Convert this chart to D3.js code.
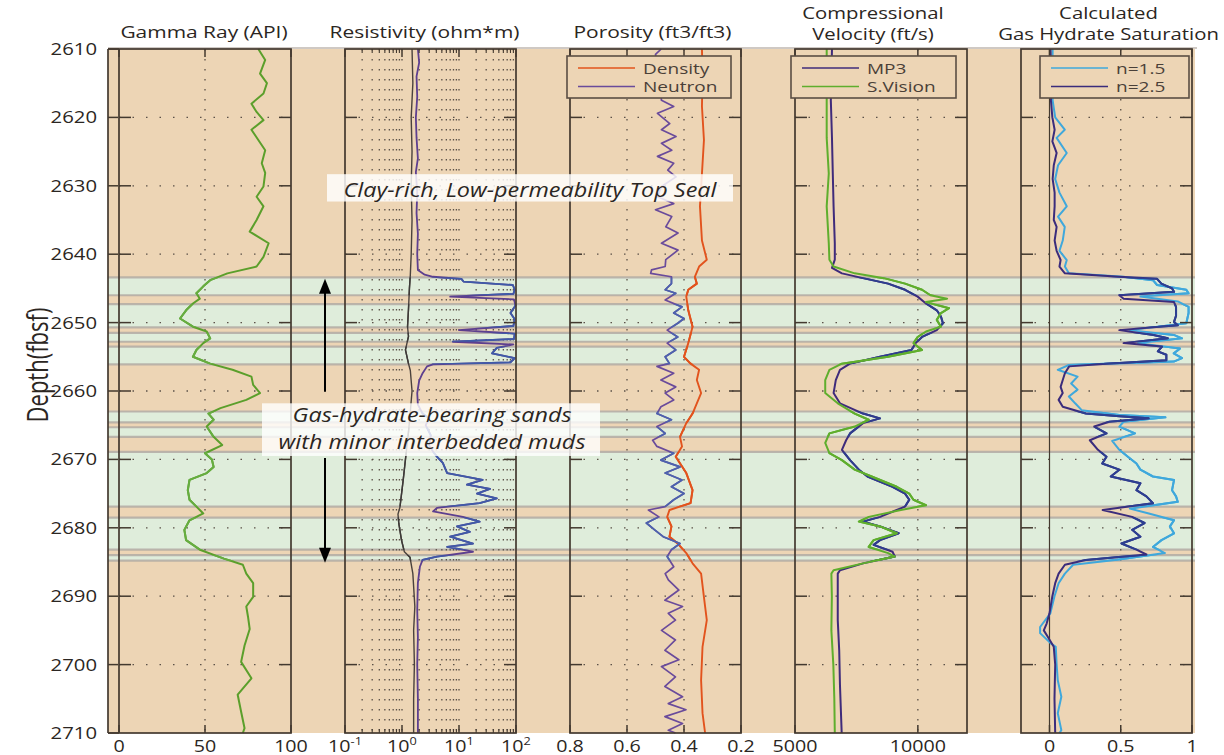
<!DOCTYPE html>
<html>
<head>
<meta charset="utf-8">
<script src="https://cdn.jsdelivr.net/npm/d3@7"></script>
<style>
  body { margin: 0; background: #fff; }
  svg { display: block; }
  text { font-family: "Open Sans", "Noto Sans", sans-serif; }
</style>
</head>
<body>
<svg id="chart" width="1224" height="755"></svg>
<script>
// ---------- data (depth in ft below sea floor, value) ----------
const depthTicks = [2610, 2620, 2630, 2640, 2650, 2660, 2670, 2680, 2690, 2700, 2710];

// hydrate-bearing intervals [top, base]
const hydrateTop  = [2643.4, 2647.3, 2651.5, 2653.5, 2663.0, 2665.3, 2668.9, 2678.5, 2684.0];
const hydrateBase = [2646.0, 2650.7, 2652.8, 2656.1, 2664.6, 2666.7, 2676.9, 2683.2, 2684.8];

const gammaRay = [[2610,81],[2611.6,85],[2613.6,82],[2615,86],[2616.5,84],[2618,77],[2619.2,80],[2620.4,84],
  [2621.8,77],[2623.3,81],[2624.8,85],[2626.7,83],[2628.1,85],[2630.1,84],[2631.6,80],[2633,84],[2635,80],
  [2636.7,76],[2638.4,87],[2640.4,84],[2641.8,80],[2642.8,63],[2643.8,53],[2644.7,49],[2645.7,45],[2646.5,47],
  [2647.2,43],[2648.2,39],[2649.4,35.5],[2650.6,43],[2651.3,51],[2652.3,53],[2653,49],[2654,45],[2655,43],
  [2656,53],[2656.9,66],[2657.9,77],[2659.1,78],[2660.3,82],[2661.3,74],[2662.5,59],[2663.3,52],[2664.2,55],
  [2665.2,51],[2666.7,55],[2667.9,60],[2669.1,50],[2670,54],[2671.1,55],[2672,51],[2673,41],[2674.5,40],
  [2675.9,41],[2676.9,45],[2677.9,49],[2678.9,41],[2680.3,38],[2681.8,39],[2683.2,47],[2684.5,61],[2685.4,72],
  [2686.7,74],[2688.1,78],[2690.1,78],[2691.5,74],[2693,75],[2694.8,76],[2697.2,73],[2699.6,71],[2702,77],
  [2704.4,69],[2706.9,71],[2709.3,73],[2710,72]];

const resShallow = [[2610,1.5],[2615,1.55],[2620,1.45],[2625,1.5],[2630,1.45],[2635,1.5],[2640,1.45],[2643,1.4],
  [2645,1.35],[2648,1.3],[2650.6,1.25],[2652,1.3],[2654,1.15],[2656,1.3],[2657,1.4],[2660,1.5],[2663,1.4],
  [2666,1.3],[2670,1.15],[2673,1.05],[2677,0.92],[2678,0.85],[2679.4,0.88],[2681.8,0.98],[2683.5,1.1],
  [2684.3,1.38],[2686.7,1.55],[2691.5,1.68],[2695,1.6],[2700,1.65],[2705,1.6],[2710,1.6]];

const resDeep = [[2610,1.9],[2612,2.0],[2614,1.8],[2617,1.85],[2620,1.75],[2623,1.8],[2626,1.9],[2628,1.75],
  [2631,1.85],[2634,1.8],[2637,1.9],[2640,1.85],[2642.3,1.9],[2643,2.5],[2643.3,3.5],[2643.6,11],[2644,12],
  [2644.5,88],[2645.2,95],[2645.8,90],[2646.2,7],[2646.6,92],[2647.5,98],[2648.6,80],[2649.5,95],[2650.5,90],
  [2651.1,10],[2651.6,95],[2652.4,92],[2652.8,7.8],[2653.2,90],[2653.7,46],[2654.5,38],[2655.2,95],[2655.8,80],
  [2656.1,3.5],[2656.4,2.75],[2657.4,2.3],[2658.5,2.0],[2660.3,1.85],[2662,1.9],[2663.3,2.3],[2664,3],
  [2665,2.6],[2666.5,3.2],[2668,3.0],[2669,3.6],[2669.6,4.1],[2670.5,5.2],[2672,6.2],[2673,26],[2673.7,13.8],
  [2674.3,35],[2675,20.7],[2675.7,46],[2676.4,23],[2677.1,4.1],[2677.6,3.5],[2678.4,11.7],[2679.1,23],
  [2679.8,9.2],[2680.6,15.5],[2681.3,7],[2682.3,17.6],[2682.8,6.2],[2683.5,17.6],[2684.2,4.1],[2684.7,2.3],
  [2685.7,2.06],[2688,1.9],[2692,1.85],[2696,1.9],[2700,1.85],[2705,1.9],[2710,1.9]];

const density = [[2610,0.337],[2614,0.335],[2618.4,0.337],[2623.3,0.33],[2628.2,0.337],[2633,0.344],[2638,0.337],
  [2640.8,0.32],[2641.8,0.347],[2643.3,0.362],[2644.3,0.355],[2645.2,0.385],[2646.2,0.392],[2648.2,0.385],
  [2650.6,0.37],[2653,0.385],[2655,0.40],[2656,0.377],[2656.9,0.347],[2658.4,0.355],[2660.3,0.34],[2661.8,0.355],
  [2663.3,0.37],[2664.7,0.392],[2666.7,0.414],[2668.1,0.407],[2669.6,0.429],[2672,0.392],[2674.5,0.37],
  [2676.4,0.377],[2677.4,0.451],[2678.4,0.459],[2679.8,0.444],[2681.3,0.451],[2682.3,0.422],[2683.7,0.392],
  [2685.2,0.37],[2686.7,0.34],[2689.1,0.333],[2691.5,0.326],[2693.5,0.32],[2697.4,0.335],[2702.3,0.34],
  [2707.1,0.335],[2710,0.326]];

const neutron = [[2610,0.48],[2610.8,0.5],[2617.5,0.479],[2618.4,0.436],[2619.4,0.493],[2620.9,0.45],[2621.8,0.479],
  [2622.8,0.428],[2623.8,0.479],[2624.8,0.443],[2625.7,0.493],[2626.7,0.436],[2627.7,0.457],[2628.7,0.428],
  [2630.1,0.479],[2631.6,0.493],[2632.6,0.436],[2633.5,0.5],[2634.5,0.443],[2636,0.464],[2636.9,0.421],
  [2638.4,0.479],[2639.4,0.421],[2640.8,0.464],[2641.8,0.466],[2642.3,0.514],[2642.8,0.517],[2643.3,0.444],
  [2644.3,0.444],[2645.2,0.466],[2645.7,0.429],[2646.7,0.466],[2647.7,0.407],[2648.6,0.436],[2649.4,0.40],
  [2650.1,0.422],[2651.1,0.459],[2652.1,0.422],[2653,0.459],[2654,0.429],[2655,0.466],[2656,0.451],[2656.4,0.495],
  [2657.4,0.436],[2658.4,0.481],[2659.4,0.429],[2660.3,0.466],[2661.3,0.436],[2662.3,0.481],[2663.3,0.495],
  [2664.2,0.444],[2665.2,0.495],[2666.2,0.466],[2667.2,0.51],[2668.1,0.495],[2669.1,0.436],[2670.1,0.481],
  [2671.1,0.414],[2672,0.466],[2673,0.407],[2674,0.444],[2675,0.40],[2675.9,0.436],[2676.9,0.466],[2677.4,0.525],
  [2678.4,0.488],[2679.3,0.532],[2680.3,0.503],[2681.3,0.473],[2682.3,0.414],[2683.2,0.444],[2684.2,0.459],
  [2685.7,0.436],[2686.7,0.466],[2687.6,0.455],[2689.1,0.418],[2690.6,0.467],[2691.5,0.405],[2692.5,0.455],
  [2693.5,0.43],[2695,0.479],[2696.4,0.43],[2697.9,0.467],[2699.3,0.418],[2700.3,0.479],[2701.8,0.43],
  [2703.2,0.467],[2704.7,0.405],[2705.7,0.455],[2706.6,0.393],[2707.6,0.467],[2708.6,0.405],[2709.6,0.455],[2710,0.43]];

const velMP3 = [[2610,6505],[2617.5,6458],[2623,6505],[2628.2,6538],[2633,6570],[2638.4,6620],[2640.8,6620],
  [2642,6505],[2642.8,6910],[2643.5,7770],[2644.3,8790],[2645.2,9480],[2646.2,9990],[2647.2,10330],[2648.2,10770],
  [2649.1,10940],[2650.1,11020],[2651.1,10770],[2652.1,10170],[2653,9910],[2654,9740],[2655,8460],[2656,7240],
  [2656.9,6830],[2658.4,6660],[2660.3,6570],[2661.8,6830],[2663.3,7770],[2664,8460],[2664.7,7770],[2666.2,7240],
  [2667.2,7080],[2668.6,6910],[2670.1,7240],[2671.5,7600],[2672.5,7950],[2674,8970],[2675,9480],[2675.9,9650],
  [2676.9,9480],[2677.4,9140],[2678.4,8460],[2679.1,7770],[2679.8,8460],[2680.8,9220],[2681.8,8460],[2682.5,8200],
  [2683.5,8970],[2684.2,9060],[2685.2,7770],[2686.2,6830],[2686.7,6740],[2689,6740],[2693.5,6740],[2698,6800],
  [2703,6830],[2710,6900]];

const velSVision = [[2610,6290],[2617.5,6290],[2623,6290],[2628.2,6375],[2633,6290],[2638.4,6375],[2640.8,6400],
  [2641.8,6570],[2642.8,7430],[2643.5,8620],[2644.3,9480],[2645.2,10170],[2646,10510],[2646.5,11190],[2647,10330],
  [2647.9,11270],[2648.6,10940],[2649.6,10770],[2650.6,10940],[2651.3,10330],[2652.1,9990],[2653,9820],[2654,10170],
  [2655,8790],[2656,6910],[2656.9,6400],[2658.4,6230],[2660.3,6230],[2661.8,6740],[2663.3,7430],[2664.2,8000],
  [2665.2,7430],[2666.2,6400],[2667.6,6230],[2669.1,6400],[2670.1,6910],[2671.5,7430],[2672.5,8120],[2674,9140],
  [2675,9650],[2675.9,9820],[2676.7,10330],[2677.4,9310],[2678.4,8000],[2679.1,7600],[2679.8,8460],[2680.8,9140],
  [2681.8,8200],[2682.8,8000],[2683.7,8790],[2684.2,9060],[2685.2,7770],[2686.2,6570],[2686.7,6480],[2690,6500],
  [2695,6480],[2700,6560],[2705,6600],[2710,6620]];

const satN15 = [[2610,0.022],[2615,0.02],[2617.5,0.022],[2620,0.04],[2621.8,0.107],[2623,0.05],[2625.2,0.121],
  [2627,0.06],[2629,0.04],[2631,0.07],[2633,0.121],[2634.5,0.06],[2636,0.107],[2638,0.093],[2639.5,0.07],
  [2640.85,0.121],[2641.8,0.108],[2642.8,0.136],[2643.3,0.52],[2643.8,0.726],[2644.5,0.755],[2645.2,0.96],
  [2645.7,0.976],[2646.2,0.638],[2646.9,0.9],[2647.7,0.976],[2648.6,0.976],[2650.1,0.96],[2651.1,0.564],
  [2651.8,0.872],[2652.3,0.93],[2653,0.62],[2653.8,0.915],[2654.5,0.872],[2655.2,0.93],[2655.7,0.872],
  [2656.2,0.136],[2656.9,0.058],[2657.9,0.197],[2658.9,0.152],[2659.8,0.197],[2660.8,0.136],[2661.8,0.18],
  [2662.8,0.226],[2663.5,0.49],[2663.85,0.813],[2664.5,0.52],[2665.2,0.49],[2666.2,0.6],[2667.3,0.44],
  [2668.6,0.49],[2669.6,0.55],[2670.6,0.61],[2671.5,0.638],[2672.5,0.726],[2673,0.874],[2674.5,0.86],
  [2675.4,0.888],[2676.2,0.9],[2677.2,0.564],[2677.9,0.697],[2678.9,0.874],[2679.8,0.845],[2680.8,0.874],
  [2681.8,0.786],[2682.8,0.726],[2683.7,0.81],[2684.7,0.46],[2685.4,0.166],[2686.7,0.108],[2688.1,0.064],
  [2690,0.035],[2692.5,0.006],[2694.5,-0.066],[2695.4,-0.066],[2696.9,0.009],[2697.4,0.044],[2700,0.05],
  [2702.3,0.058],[2704.7,0.083],[2707.1,0.058],[2709.6,0.083],[2710,0.07]];

const satN25 = [[2610,0.007],[2615,0.015],[2617.5,0.01],[2620,0.02],[2621.8,0.036],[2623.5,0.02],[2625.2,0.05],
  [2627,0.03],[2629,0.022],[2631,0.036],[2633,0.036],[2635,0.03],[2636,0.05],[2638,0.036],[2639.5,0.05],
  [2640.85,0.078],[2641.8,0.07],[2642.8,0.108],[2643.3,0.49],[2643.6,0.755],[2644.3,0.785],[2645,0.86],
  [2645.5,0.874],[2646,0.49],[2646.5,0.52],[2647,0.874],[2647.7,0.888],[2649,0.888],[2649.9,0.874],[2650.4,0.9],
  [2651.1,0.49],[2651.8,0.73],[2652.3,0.83],[2653,0.52],[2653.5,0.79],[2654.2,0.76],[2654.7,0.82],[2655.5,0.82],
  [2656,0.4],[2656.4,0.138],[2657.4,0.108],[2658.4,0.093],[2659.4,0.078],[2660.3,0.093],[2661.3,0.064],
  [2662.3,0.093],[2663.3,0.255],[2663.7,0.49],[2664,0.695],[2664.5,0.42],[2665.2,0.314],[2666.2,0.4],
  [2667.2,0.283],[2668.6,0.34],[2669.6,0.4],[2670.6,0.37],[2671.5,0.49],[2672.5,0.43],[2673.5,0.638],
  [2674.5,0.61],[2675.4,0.68],[2676.4,0.726],[2677.4,0.373],[2678.4,0.58],[2679.3,0.667],[2680.3,0.58],
  [2681.3,0.638],[2682.3,0.505],[2683.2,0.61],[2683.9,0.68],[2684.7,0.255],[2685.4,0.108],[2686.7,0.064],
  [2688.1,0.04],[2690,0.02],[2692.5,0.0],[2694,-0.02],[2695,-0.04],[2696,-0.01],[2697.4,0.03],[2700,0.04],
  [2705,0.035],[2710,0.04]];

// tick labels per track
const grTicks  = [0, 50, 100];
const resTicks = [0.1, 1, 10, 100];
const resExp   = ['-1', '0', '1', '2'];
const porTicks = [0.8, 0.6, 0.4, 0.2];
const velTicks = [5000, 10000];
const satTicks = [0, 0.5, 1];

// ---------- layout ----------
const svg = d3.select('#chart');
const TAN = '#edd5b5', EDGE = '#43392f', INK = '#2b2622';
const y = d3.scaleLinear().domain([2610, 2710]).range([49, 733]);
const sx = 1.27;  // the source figure is stretched horizontally

function label(g, x, yy, str, size, anchor, fill) {
  return g.append('text')
    .attr('transform', `translate(${x},${yy}) scale(${sx},1)`)
    .attr('text-anchor', anchor || 'middle')
    .style('font-size', size + 'px')
    .attr('fill', fill || INK)
    .text(str);
}

const minorLog = [];
[0.1, 1, 10].forEach(dec => { for (let k = 2; k <= 9; k++) minorLog.push(k * dec); });

const tracks = [
  { x: d3.scaleLinear([0, 100], [119, 291]), ticks: grTicks, grid: [50], title: ['Gamma Ray (API)'], tdx: -1,
    series: [{ data: gammaRay, color: '#5b9f2b', inColor: '#66ad40', w: 2 }] },
  { x: d3.scaleLog([0.1, 100], [345, 516]), ticks: resTicks, grid: [1, 10].concat(minorLog), minor: minorLog,
    title: ['Resistivity (ohm*m)'], tdx: -6,
    series: [{ data: resShallow, color: '#4a423d', inColor: '#3d3a38', w: 1.4 },
             { data: resDeep, color: '#5d3f8f', inColor: '#3f5aa8', w: 1.8 }] },
  { x: d3.scaleLinear([0.8, 0.2], [570, 741]), ticks: porTicks, grid: [0.6, 0.4], title: ['Porosity (ft3/ft3)'], tdx: -3,
    series: [{ data: density, name: 'Density', color: '#e2531d', inColor: '#e2531d', w: 1.9 },
             { data: neutron, name: 'Neutron', color: '#6a4b9b', inColor: '#4c63ae', w: 1.7 }],
    legend: [567, 731] },
  { x: d3.scaleLinear([5000, 12000], [795, 967]), ticks: velTicks, grid: [10000],
    title: ['Compressional', 'Velocity (ft/s)'], tdx: -8,
    series: [{ data: velMP3, name: 'MP3', color: '#3f2b7b', inColor: '#2e3d8e', w: 2 },
             { data: velSVision, name: 'S.Vision', color: '#5fae2d', inColor: '#5fae2d', w: 2 }],
    legend: [791, 956] },
  { x: d3.scaleLinear([-0.2, 1], [1021, 1192]), ticks: satTicks, grid: [0.5], zero: true,
    title: ['Calculated', 'Gas Hydrate Saturation'], tdx: 2,
    series: [{ data: satN15, name: 'n=1.5', color: '#3fa8dc', inColor: '#3fa8dc', w: 2 },
             { data: satN25, name: 'n=2.5', color: '#3b2c7c', inColor: '#2c3f92', w: 2 }],
    legend: [1040, 1189] }
];

const X0 = 108, X1 = 1195;
const bands = d3.zip(hydrateTop, hydrateBase);

// background
svg.append('rect').attr('x', X0).attr('y', y(2610)).attr('width', X1 - X0).attr('height', y(2710) - y(2610)).attr('fill', TAN);
svg.append('line').attr('x1', X0).attr('x2', X1 + 2).attr('y1', y(2610) - 1).attr('y2', y(2610) - 1)
  .attr('stroke', '#cfc9c4').attr('stroke-width', 2);

// hydrate bands
const bandG = svg.append('g');
bandG.selectAll('rect').data(bands).join('rect')
  .attr('x', X0).attr('width', X1 - X0)
  .attr('y', d => y(d[0])).attr('height', d => y(d[1]) - y(d[0]))
  .attr('fill', '#dfeddb');
const edges = bands.flatMap(d => d);
bandG.selectAll('line').data(edges).join('line')
  .attr('x1', X0).attr('x2', X1).attr('y1', d => y(d)).attr('y2', d => y(d))
  .attr('stroke', '#b3aca5').attr('stroke-width', 2.2).attr('opacity', 0.85);

svg.append('clipPath').attr('id', 'bandClip')
  .selectAll('rect').data(bands).join('rect')
  .attr('x', X0).attr('width', X1 - X0)
  .attr('y', d => y(d[0])).attr('height', d => y(d[1]) - y(d[0]));

// tracks
tracks.forEach(t => {
  const [xa, xb] = t.x.range();
  const g = svg.append('g');
  // dotted grid
  g.selectAll('.hg').data(depthTicks.slice(1, -1)).join('line')
    .attr('x1', xa).attr('x2', xb).attr('y1', d => y(d)).attr('y2', d => y(d))
    .attr('stroke', '#5b5148').attr('stroke-width', 1.3).attr('stroke-dasharray', '1.5,12');
  g.selectAll('.vg').data(t.grid).join('line')
    .attr('x1', d => t.x(d)).attr('x2', d => t.x(d)).attr('y1', y(2610)).attr('y2', y(2710))
    .attr('stroke', '#5b5148').attr('stroke-width', 1.3).attr('stroke-dasharray', '1.5,8.5');
  if (t.zero) {
    g.append('line').attr('x1', t.x(0)).attr('x2', t.x(0)).attr('y1', y(2610)).attr('y2', y(2710))
      .attr('stroke', EDGE).attr('stroke-width', 1.2);
  }
  // curves
  t.series.forEach(s => {
    const line = d3.line().x(d => t.x(d[1])).y(d => y(d[0]));
    g.append('path').datum(s.data).attr('d', line)
      .attr('fill', 'none').attr('stroke', s.color).attr('stroke-width', s.w).attr('stroke-linejoin', 'round');
    g.append('path').datum(s.data).attr('d', line).attr('clip-path', 'url(#bandClip)')
      .attr('fill', 'none').attr('stroke', s.inColor).attr('stroke-width', s.w).attr('stroke-linejoin', 'round');
  });
  // box and ticks
  g.append('rect').attr('x', xa).attr('y', y(2610)).attr('width', xb - xa).attr('height', y(2710) - y(2610))
    .attr('fill', 'none').attr('stroke', EDGE).attr('stroke-width', 1.7);
  depthTicks.slice(1, -1).forEach(d => {
    g.append('line').attr('x1', xa).attr('x2', xa + 12).attr('y1', y(d)).attr('y2', y(d)).attr('stroke', EDGE).attr('stroke-width', 1.5);
    g.append('line').attr('x1', xb - 12).attr('x2', xb).attr('y1', y(d)).attr('y2', y(d)).attr('stroke', EDGE).attr('stroke-width', 1.5);
  });
  t.ticks.forEach(v => {
    g.append('line').attr('x1', t.x(v)).attr('x2', t.x(v)).attr('y1', y(2610)).attr('y2', y(2610) + 8).attr('stroke', EDGE).attr('stroke-width', 1.5);
    g.append('line').attr('x1', t.x(v)).attr('x2', t.x(v)).attr('y1', y(2710)).attr('y2', y(2710) - 8).attr('stroke', EDGE).attr('stroke-width', 1.5);
  });
  (t.minor || []).forEach(v => {
    g.append('line').attr('x1', t.x(v)).attr('x2', t.x(v)).attr('y1', y(2610)).attr('y2', y(2610) + 4).attr('stroke', EDGE).attr('stroke-width', 1.1);
    g.append('line').attr('x1', t.x(v)).attr('x2', t.x(v)).attr('y1', y(2710)).attr('y2', y(2710) - 4).attr('stroke', EDGE).attr('stroke-width', 1.1);
  });
  // bottom tick labels
  t.ticks.forEach((v, i) => {
    if (t.x.base) {
      const tx = label(svg, t.x(v), 752, '10', 15.5);
      tx.append('tspan').attr('dy', -7).style('font-size', '10px').text(resExp[i]);
    } else {
      label(svg, t.x(v), 752, String(v), 15.5);
    }
  });
  // titles
  const cx = (xa + xb) / 2 + t.tdx;
  if (t.title.length === 1) label(svg, cx, 38, t.title[0], 16.5);
  else { label(svg, cx, 18.5, t.title[0], 16); label(svg, cx, 39.5, t.title[1], 16); }
  // legend
  if (t.legend) {
    const [la, lb] = t.legend;
    const lg = svg.append('g');
    lg.append('rect').attr('x', la).attr('y', 56).attr('width', lb - la).attr('height', 42)
      .attr('fill', TAN).attr('stroke', '#5a4e44').attr('stroke-width', 1.6);
    t.series.forEach((s, i) => {
      const ly = 68 + i * 18.5;
      lg.append('line').attr('x1', la + 11).attr('x2', la + 68).attr('y1', ly).attr('y2', ly)
        .attr('stroke', s.color).attr('stroke-width', 1.6);
      label(lg, la + 76, ly + 5.5, s.name, 15, 'start', '#4a4038');
    });
  }
});

// depth axis
const ax = svg.append('g');
ax.append('line').attr('x1', X0).attr('x2', X0).attr('y1', y(2610)).attr('y2', y(2710)).attr('stroke', EDGE).attr('stroke-width', 1.7);
ax.append('line').attr('x1', X0).attr('x2', 119).attr('y1', y(2710)).attr('y2', y(2710)).attr('stroke', EDGE).attr('stroke-width', 1.7);
ax.append('line').attr('x1', X0).attr('x2', 119).attr('y1', y(2610)).attr('y2', y(2610)).attr('stroke', EDGE).attr('stroke-width', 1.7);
depthTicks.forEach(d => {
  ax.append('line').attr('x1', X0).attr('x2', X0 + 10).attr('y1', y(d)).attr('y2', y(d)).attr('stroke', EDGE).attr('stroke-width', 1.5);
  label(ax, 97, y(d) + 6, String(d), 16, 'end');
});
ax.append('text')
  .attr('transform', `translate(48,${y(2656.2)}) scale(1.3,1) rotate(-90)`)
  .attr('text-anchor', 'middle').style('font-size', '22px').attr('fill', INK)
  .text('Depth(fbsf)');

// annotations
const note = svg.append('g');
function noteText(x, d, str) {
  note.append('text').attr('transform', `translate(${x},${y(d)}) scale(1.17,1)`)
    .attr('text-anchor', 'middle').style('font-size', '20px').style('font-style', 'italic').attr('fill', INK)
    .text(str);
}
note.append('rect').attr('x', 327).attr('y', y(2628.3)).attr('width', 406).attr('height', y(2632.3) - y(2628.3))
  .attr('fill', '#fff').attr('opacity', 0.82);
noteText(530, 2631.6, 'Clay-rich, Low-permeability Top Seal');
note.append('rect').attr('x', 262).attr('y', y(2661.8)).attr('width', 338).attr('height', y(2669.5) - y(2661.8))
  .attr('fill', '#fff').attr('opacity', 0.8);
noteText(432, 2664.6, 'Gas-hydrate-bearing sands');
noteText(432, 2668.5, 'with minor interbedded muds');

// arrows
const arrowX = 325;
function arrow(fromD, toD) {
  const dir = toD > fromD ? 1 : -1;
  const tip = y(toD);
  note.append('line').attr('x1', arrowX).attr('x2', arrowX).attr('y1', y(fromD)).attr('y2', tip - dir * 10)
    .attr('stroke', '#000').attr('stroke-width', 2);
  note.append('path').attr('d', `M${arrowX},${tip} L${arrowX - 6},${tip - dir * 15} L${arrowX + 6},${tip - dir * 15} Z`)
    .attr('fill', '#000');
}
arrow(2660.1, 2643.6);
arrow(2669.8, 2685.1);
</script>
</body>
</html>
